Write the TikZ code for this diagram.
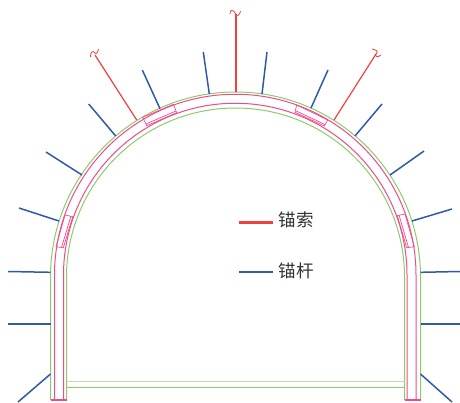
\documentclass[tikz,border=0pt]{standalone}
\usepackage{fontspec}
\newfontfamily\cjk{Noto Sans CJK SC}
\definecolor{gr}{HTML}{8CCB6A}
\definecolor{pk}{HTML}{EE4B8F}
\definecolor{bl}{HTML}{2F5AA8}
\definecolor{rd}{HTML}{F04040}
\tikzset{
 greenline/.style={draw=gr,line width=1pt},
 pinkline/.style={draw=pk,line width=1pt},
 plate/.style={draw=pk,line width=.7pt},
 bolt/.style={draw=bl,line width=1.5pt},
 cable/.style={draw=rd,line width=1.2pt},
 squig/.style={draw=rd,line width=.8pt},
 legendtext/.style={inner sep=0pt,font=\cjk\fontsize{17.5pt}{17.5pt}\selectfont,text=black!80}
}
\begin{document}
\begin{tikzpicture}[x=1pt,y=-1pt]
\useasboundingbox (0,0) rectangle (460,402);
% lining
\draw[greenline] (50.5,400) -- (50.5,277) arc[start angle=180,end angle=360,radius=185] -- (420.5,400);
\draw[greenline] (66.5,400) -- (66.5,277) arc[start angle=180,end angle=360,radius=169] -- (404.5,400);
\draw[pinkline] (54.5,400) -- (54.5,275) arc[start angle=180,end angle=360,radius=180.75] -- (416,400);
\draw[pinkline] (63.5,400) -- (63.5,275) arc[start angle=180,end angle=360,radius=171.75] -- (407,400);
\draw[greenline,draw=gr!60] (66.5,381) -- (404.5,381);
\draw[greenline] (66.5,387.3) -- (404.5,387.3);
\draw[draw=pk,line width=1.5pt] (50.5,400) -- (66.5,400) (404.5,400) -- (420.5,400);
% plates
\draw[plate] (65,215) -- (72.7,216.7) -- (63.3,247.7) -- (56,246.7) -- cycle;
\draw[plate] (70.9,216.3) -- (61.5,247.5);
\draw[plate] (142.7,117.3) -- (173.3,104.3) -- (176.7,112.7) -- (146.7,125.7) -- cycle;
\draw[plate] (145.9,124) -- (175.9,111);
\draw[plate] (296.7,105) -- (327.7,120) -- (324.3,126) -- (295,112.3) -- cycle;
\draw[plate] (295.4,110.6) -- (325.1,124.6);
\draw[plate] (397.3,215.7) -- (405,214) -- (414.3,246.7) -- (406.7,247.7) -- cycle;
\draw[plate] (399.1,215.3) -- (408.5,247.5);
% anchor rods
\foreach \a/\b/\c/\d in {8/271.5/50.5/272.3, 8/324/50.5/324, 18/402/50.5/374, 19/208/59/221, 46/152/82/175, 88.7/104/115.7/136, 142.3/70/160/108.7, 203.3/52/209.3/94, 267/52/262/94, 328/70/311/108, 382/104/355/136, 424/151/390/175, 452/209/412/221, 460/271.5/420.5/272.3, 460/324/420.5/324, 452/402/420.5/374}
  \draw[bolt] (\a,\b) -- (\c,\d);
% anchor cables
\draw[cable] (95,55) -- (136.7,120);
\draw[cable,line width=1.5pt] (235.8,14) -- (235.8,92);
\draw[cable] (376,54) -- (334,120);
\draw[squig] (90.5,57) .. controls (90,52) and (93,50) .. (95,53) .. controls (96,55) and (98,52) .. (98.5,49);
\draw[squig] (230,14) .. controls (230,9) and (233,9) .. (235.8,14) .. controls (237,17) and (240,15) .. (240.5,11);
\draw[squig] (372,49) .. controls (376,50) and (379,51) .. (376,54) .. controls (374,56) and (378,58) .. (381,55);
% legend
\coordinate (ra) at (238.5,222.5); \coordinate (rb) at (273,222.5);
\coordinate (ba) at (238.5,272); \coordinate (bb) at (273,272);
\draw[cable,line width=2.2pt] (ra) -- (rb);
\draw[bolt,line width=2pt] (ba) -- (bb);
\node[legendtext,anchor=west] (t1) at (278.5,220) {锚索};
\node[legendtext,anchor=west] (t2) at (278.5,270.5) {锚杆};
\end{tikzpicture}
\end{document}
